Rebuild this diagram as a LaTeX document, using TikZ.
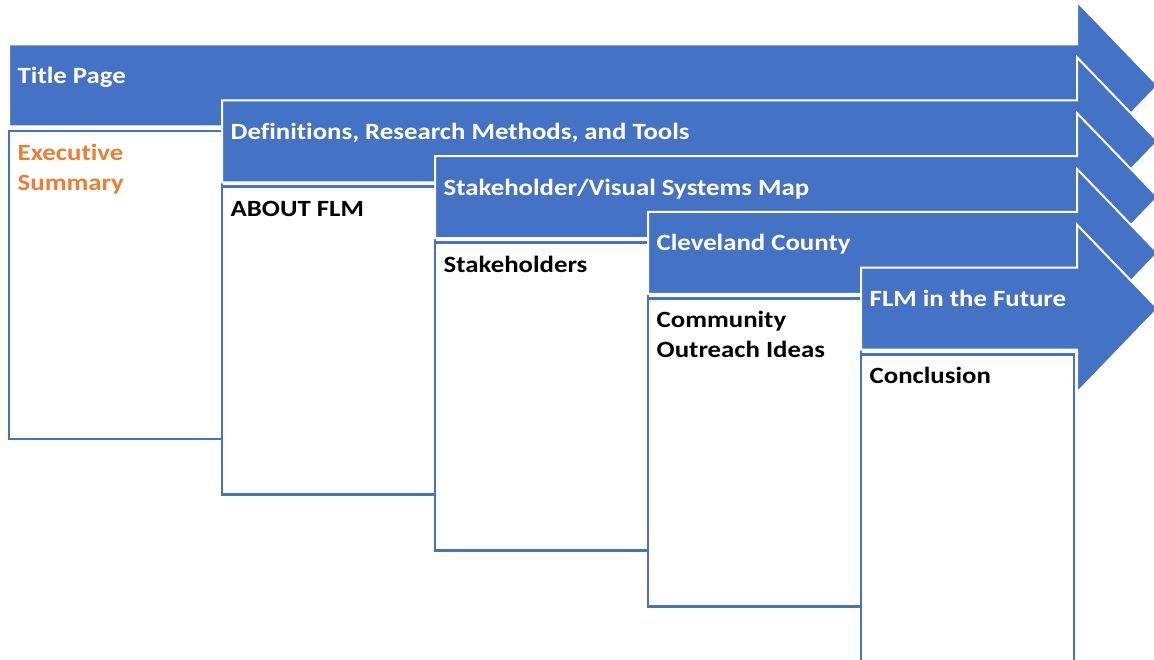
\documentclass[tikz,border=0pt]{standalone}
\usepackage{fontspec}
\setmainfont{Carlito}[FakeStretch=1.15,Ligatures=NoCommon]
\definecolor{offblue}{HTML}{4472C4}
\definecolor{offorange}{HTML}{ED7D31}
\newcommand\flmlines[2]{\vtop{\baselineskip=30pt\hbox{#1}\hbox{#2}}}
\newcommand\flmstage[4]{%
  \pgfmathsetmacro\L{9+213*(#1-1)}%
  \pgfmathsetmacro\C{85.5+55.8*(#1-1)}%
  \draw[arrowshape] (\L,\C-41) -- (1077,\C-41) -- (1077,\C-84) -- (1158,\C)
     -- (1077,\C+84) -- (1077,\C+41) -- (\L,\C+41) -- cycle;
  \draw[boxshape] (\L,\C+45.5) rectangle (\L+213,\C+45.5+308);
  \node[arrowtext] (a#1) at (\L+8.5,\C-2) {#2};
  \node[boxtext,text=#4] (b#1) at (\L+8.5,\C+45.5+29.5) {#3};
}
\begin{document}
\begin{tikzpicture}[x=1pt,y=-1pt,
  arrowshape/.style={fill=offblue, draw=white, line width=2pt, line join=miter},
  boxshape/.style={fill=white, draw=offblue, line width=2.8pt},
  arrowtext/.style={anchor=base west, inner sep=0pt, text=white,
     font=\fontsize{23.3}{28}\selectfont\bfseries},
  boxtext/.style={anchor=base west, inner sep=0pt,
     font=\fontsize{23.3}{30}\selectfont\bfseries},
]
\clip (0,0) rectangle (1154,660);
\fill[white] (0,0) rectangle (1154,660);
\flmstage{1}{Title Page}{\flmlines{Executive}{Summary}}{offorange}
\flmstage{2}{Definitions, Research Methods, and Tools}{ABOUT FLM}{black}
\flmstage{3}{Stakeholder/Visual Systems Map}{Stakeholders}{black}
\flmstage{4}{Cleveland County}{\flmlines{Community}{Outreach Ideas}}{black}
\flmstage{5}{FLM in the Future}{Conclusion}{black}
\end{tikzpicture}
\end{document}
